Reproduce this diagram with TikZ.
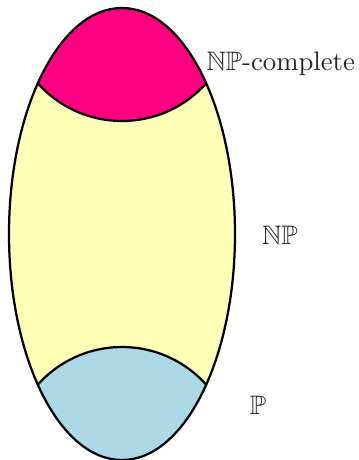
\documentclass[tikz,border=0pt]{standalone}
\usepackage{amsmath}
\usepackage{amssymb}
\usepackage{tikz}
\usetikzlibrary{positioning}
\usepackage{xcolor}
\definecolor{npcpink}{rgb}{1,0,0.5}
\definecolor{npyellow}{rgb}{1,1,0.72}
\definecolor{pblue}{RGB}{173,216,230}

\begin{document}
\begin{tikzpicture}[x=0.0125cm, y=0.0125cm,
    region/.style={draw, thick},
    classlabel/.style={inner sep=0pt, text=black!85, scale=0.95}
]
\useasboundingbox (0,0) rectangle (359,460);
\coordinate (c) at (122,226);
\coordinate (top) at (122,452);
\coordinate (bot) at (122,0);

\fill[npyellow] (c) ellipse [x radius=113, y radius=226];
\begin{scope}
  \clip (c) ellipse [x radius=113, y radius=226];
  \filldraw[region, fill=npcpink] (top) circle [radius=113];
  \filldraw[region, fill=pblue] (bot) circle [radius=113];
\end{scope}
\draw[region] (c) ellipse [x radius=113, y radius=226];

\node[classlabel, anchor=west] (npc) at (206,396) {$\mathbb{NP}$-complete};
\node[classlabel] (np) at (280,225) {$\mathbb{NP}$};
\node[classlabel] (p) at (258,55) {$\mathbb{P}$};
\end{tikzpicture}
\end{document}
